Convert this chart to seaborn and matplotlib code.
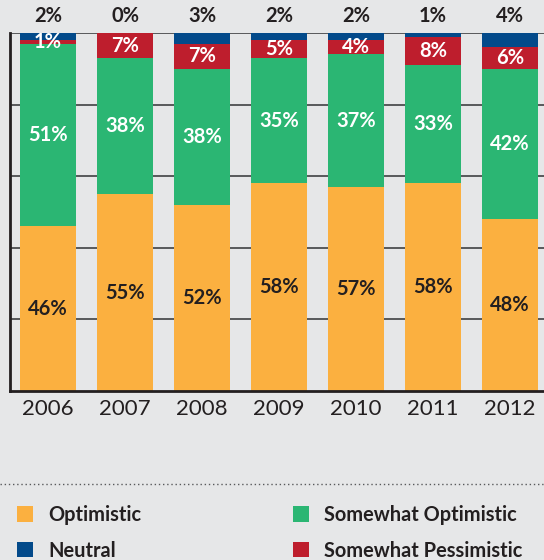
import matplotlib
matplotlib.use("Agg")
import matplotlib.pyplot as plt
import seaborn as sns
import pandas as pd
import numpy as np
from matplotlib.patches import Patch
from matplotlib.lines import Line2D

years = ["2006", "2007", "2008", "2009", "2010", "2011", "2012"]
optimistic = [46, 55, 52, 58, 57, 58, 48]
somewhat_optimistic = [51, 38, 38, 35, 37, 33, 42]
somewhat_pessimistic = [1, 7, 7, 5, 4, 8, 6]
neutral = [2, 0, 3, 2, 2, 1, 4]

series_names = ["Optimistic", "Somewhat Optimistic", "Somewhat Pessimistic", "Neutral"]
series_vals = [optimistic, somewhat_optimistic, somewhat_pessimistic, neutral]
colors = {"Optimistic": "#fbb040", "Somewhat Optimistic": "#2bb673",
          "Somewhat Pessimistic": "#be1e2d", "Neutral": "#034a8a"}

BG = "#e6e7e8"
DARK = "#231f20"
sns.set_style("white")
plt.rcParams["font.family"] = ["Lato", "DejaVu Sans"]

fig = plt.figure(figsize=(5.44, 5.60), dpi=100, facecolor=BG)
ax = fig.add_axes([10/544, 169/560, 534/544, 358/560])
ax.set_facecolor(BG)

cum = np.zeros(len(years))
tops = []
for name, vals in zip(series_names, series_vals):
    cum = cum + np.array(vals)
    tops.append(cum.copy())

for g in [20, 40, 60, 80, 100]:
    ax.axhline(g, color="#58595b", lw=1.4, zorder=0)

for name, top in reversed(list(zip(series_names, tops))):
    d = pd.DataFrame({"year": years, "top": top})
    sns.barplot(data=d, x="year", y="top", color=colors[name], saturation=1,
                width=56/77, linewidth=0, ax=ax, zorder=2)

ax.set_xlim(-38/77, -38/77 + 534/77)
ax.set_ylim(0, 100)
ax.set_xlabel("")
ax.set_ylabel("")
ax.set_yticks([])
ax.tick_params(axis="x", length=0, pad=6, labelsize=16, colors=DARK)
for sp in ["top", "right"]:
    ax.spines[sp].set_visible(False)
for sp in ["left", "bottom"]:
    ax.spines[sp].set_color(DARK)
    ax.spines[sp].set_linewidth(2)
    ax.spines[sp].set_zorder(5)

fs = 14.5
for i in range(len(years)):
    base = 0
    for name, vals, tcol in zip(series_names[:3], series_vals[:3], [DARK, "white", "white"]):
        v = vals[i]
        ax.text(i, base + v / 2, f"{v}%", ha="center", va="center", color=tcol,
                fontsize=fs, fontweight="bold", zorder=6)
        base += v
    ax.annotate(f"{neutral[i]}%", xy=(i, 100), xytext=(0, 5), textcoords="offset points",
                ha="center", va="bottom", color=DARK, fontsize=fs, fontweight="bold",
                annotation_clip=False)

fig.add_artist(Line2D([0, 1], [1 - 484/560, 1 - 484/560], transform=fig.transFigure,
                      color="#58595b", lw=1, linestyle=(0, (1, 2))))

handles = [Patch(facecolor=colors[n], edgecolor="none") for n in
           ["Optimistic", "Neutral", "Somewhat Optimistic", "Somewhat Pessimistic"]]
labels = ["Optimistic", "Neutral", "Somewhat Optimistic", "Somewhat Pessimistic"]
leg = fig.legend(handles, labels, ncol=2, loc="upper left",
                 bbox_to_anchor=(17/544, 1 - 505/560), frameon=False,
                 borderpad=0, borderaxespad=0,
                 handlelength=0.8, handleheight=0.8, handletextpad=0.75,
                 columnspacing=7.6, labelspacing=0.78,
                 prop={"weight": "bold", "size": 14.4})
for t in leg.get_texts():
    t.set_color(DARK)

fig.savefig("out.png", dpi=100, facecolor=BG)
